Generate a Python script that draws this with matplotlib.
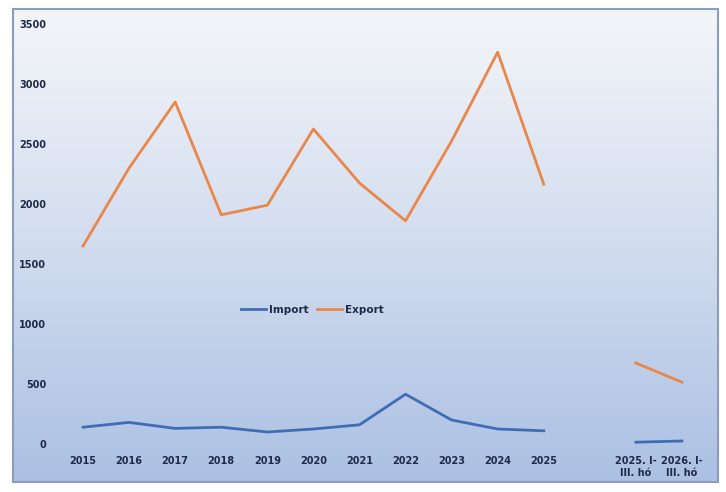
import matplotlib
matplotlib.use("Agg")
import matplotlib.pyplot as plt
import numpy as np

# categories (one empty slot between the yearly data and the quarterly data)
categories = ["2015", "2016", "2017", "2018", "2019", "2020", "2021", "2022",
              "2023", "2024", "2025", "", "2025. I-\nIII. hó", "2026. I-\nIII. hó"]
export_vals = [1650, 2300, 2850, 1910, 1990, 2625, 2175, 1860, 2525, 3265, 2165,
               np.nan, 675, 515]
import_vals = [140, 180, 130, 140, 100, 125, 160, 415, 200, 125, 110,
               np.nan, 15, 25]
yticks = [0, 500, 1000, 1500, 2000, 2500, 3000, 3500]

W, H = 726, 492
fig = plt.figure(figsize=(W / 100, H / 100), dpi=100)
fig.patch.set_facecolor("white")

# background frame with a vertical gradient
fl, fr, ft, fb = 13, 718, 9, 482
bg = fig.add_axes([fl / W, 1 - fb / H, (fr - fl) / W, (fb - ft) / H])
top_c = np.array([0xf3, 0xf5, 0xf9]) / 255
bot_c = np.array([0xab, 0xc0, 0xe3]) / 255
t = np.linspace(0, 1, 256)[:, None] ** 1.1
grad = top_c[None, :] * (1 - t) + bot_c[None, :] * t
bg.imshow(grad[:, None, :], aspect="auto", extent=[0, 1, 0, 1])
bg.set_xticks([])
bg.set_yticks([])
for s in bg.spines.values():
    s.set_color("#8a9dbb")
    s.set_linewidth(1.5)

# data axes
x0, x1 = 60, 705
y0, y1 = 444, 24
ax = fig.add_axes([x0 / W, 1 - y0 / H, (x1 - x0) / W, (y0 - y1) / H])
ax.patch.set_alpha(0)
x = np.arange(len(categories))
ax.plot(x, import_vals, color="#3f6db4", lw=2.0, label="Import")
ax.plot(x, export_vals, color="#e9874a", lw=2.0, label="Export")
ax.axhline(0, color="white", lw=0.8, alpha=0.6, zorder=0)

ax.set_xlim(-0.5, len(categories) - 0.5)
ax.set_ylim(0, 3500)
ax.set_yticks(yticks)
ax.set_xticks(x)
ax.set_xticklabels(categories)
for s in ax.spines.values():
    s.set_visible(False)
ax.tick_params(length=0, labelsize=7, labelcolor="#1f2a48")
ax.tick_params(axis="y", pad=10)
ax.tick_params(axis="x", pad=9)
for lab in ax.get_xticklabels() + ax.get_yticklabels():
    lab.set_fontweight("bold")

leg = ax.legend(loc="center", bbox_to_anchor=((312 - x0) / (x1 - x0), (y0 - 310) / (y0 - y1)),
                ncol=2, frameon=False, fontsize=7.5, handlelength=2.4,
                handletextpad=0.3, columnspacing=0.8)
for txt in leg.get_texts():
    txt.set_fontweight("bold")
    txt.set_color("#1f2a48")

fig.savefig("out.png", dpi=100)
